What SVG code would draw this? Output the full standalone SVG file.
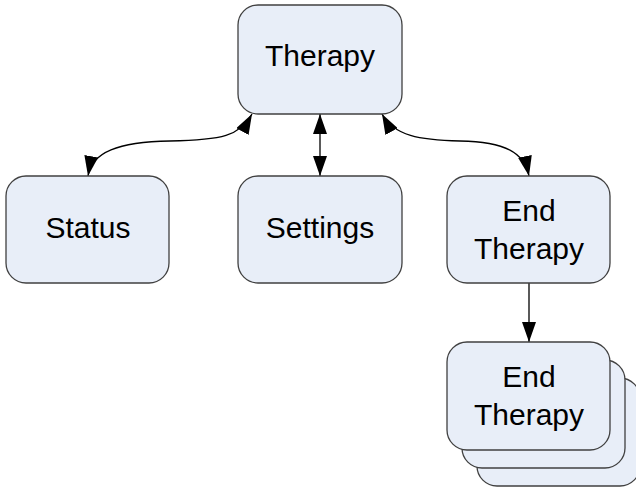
<svg xmlns="http://www.w3.org/2000/svg" width="636" height="489" viewBox="0 0 636 489">
<style>
.box{fill:#E8EEF8;stroke:#404040;stroke-width:1.3}
.t{font-family:"Liberation Sans",Arial,sans-serif;font-size:30px;fill:#000;text-anchor:middle}
.c{fill:none;stroke:#000;stroke-width:1.3}
</style>
<defs>
<marker id="ah" viewBox="0 0 20 14" refX="20" refY="7" markerWidth="20" markerHeight="14" markerUnits="userSpaceOnUse" orient="auto-start-reverse">
<path d="M0,0 L20,7 L0,14 Z" fill="#000"/>
</marker>
</defs>
<rect width="636" height="489" fill="#fff"/>
<g id="connectors">
<path class="c" d="M88,176 C92,152 118,142 170,141 C222,140 240,136 252,114" marker-start="url(#ah)" marker-end="url(#ah)"/>
<path class="c" d="M320,114 L320,176" marker-start="url(#ah)" marker-end="url(#ah)"/>
<path class="c" d="M382,114 C394,136 420,140 460,141 C505,142 524,152 529,176" marker-start="url(#ah)" marker-end="url(#ah)"/>
<path class="c" d="M529,283 L529,342" marker-end="url(#ah)"/>
</g>
<g id="therapy">
<rect class="box" x="238" y="5" width="164" height="109" rx="20"/>
<text class="t" x="320" y="66">Therapy</text>
</g>
<g id="status">
<rect class="box" x="6" y="176" width="163" height="107" rx="20"/>
<text class="t" x="88" y="238">Status</text>
</g>
<g id="settings">
<rect class="box" x="238" y="176" width="164" height="107" rx="20"/>
<text class="t" x="320" y="238">Settings</text>
</g>
<g id="end-therapy">
<rect class="box" x="447" y="176" width="163" height="107" rx="20"/>
<text class="t" x="529" y="221">End</text>
<text class="t" x="529" y="259">Therapy</text>
</g>
<g id="end-therapy-stack">
<rect class="box" x="477" y="378" width="163" height="108" rx="20"/>
<rect class="box" x="462" y="360" width="163" height="108" rx="20"/>
<rect class="box" x="447" y="342" width="163" height="108" rx="20"/>
<text class="t" x="529" y="387">End</text>
<text class="t" x="529" y="425">Therapy</text>
</g>
</svg>
